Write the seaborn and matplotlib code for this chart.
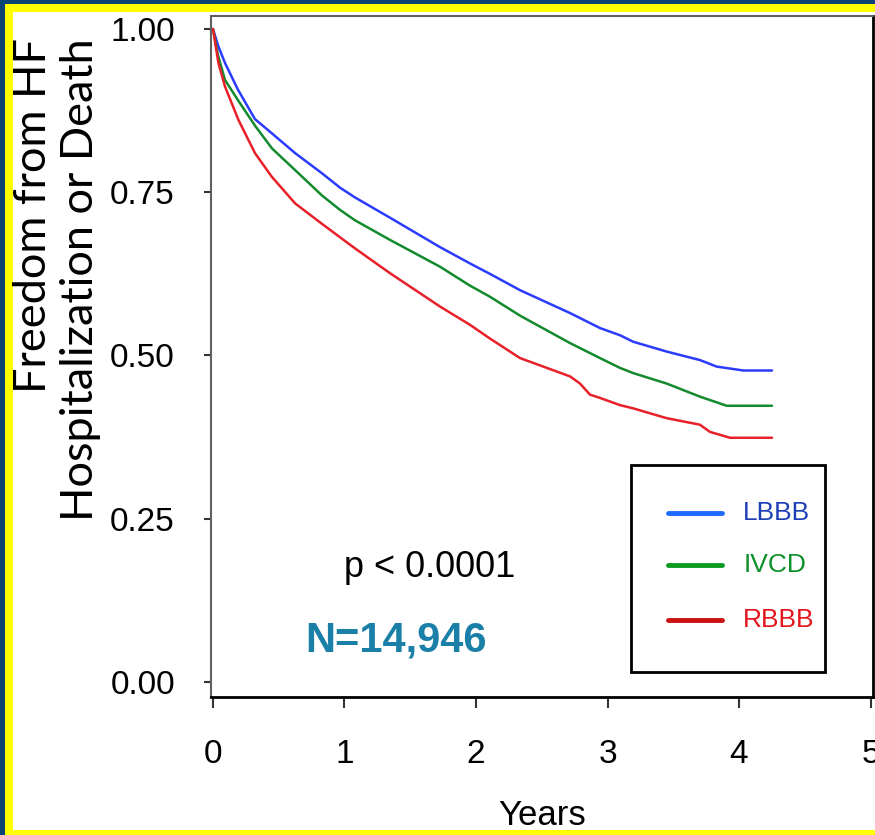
import numpy as np
import pandas as pd
import matplotlib
matplotlib.use("Agg")
import matplotlib.pyplot as plt
from matplotlib.patches import Rectangle
from matplotlib.lines import Line2D
import seaborn as sns

# ---------------- data ----------------
groups = ["LBBB", "IVCD", "RBBB"]

lbbb_years = [0.0, 0.038, 0.091, 0.190, 0.319, 0.449, 0.624, 0.829, 0.966, 1.080,
              1.346, 1.726, 1.954, 2.106, 2.335, 2.715, 2.943, 3.095, 3.196, 3.450,
              3.703, 3.830, 4.033, 4.251]
lbbb_surv = [1.0, 0.975, 0.948, 0.907, 0.862, 0.840, 0.810, 0.779, 0.757, 0.742,
             0.711, 0.666, 0.641, 0.625, 0.600, 0.565, 0.542, 0.531, 0.521, 0.506,
             0.493, 0.483, 0.477, 0.477]

ivcd_years = [0.0, 0.038, 0.091, 0.190, 0.319, 0.449, 0.624, 0.829, 0.966, 1.080,
              1.346, 1.726, 1.954, 2.106, 2.335, 2.715, 2.943, 3.095, 3.196, 3.450,
              3.703, 3.906, 4.251]
ivcd_surv = [1.0, 0.960, 0.922, 0.891, 0.852, 0.817, 0.784, 0.745, 0.723, 0.707,
             0.677, 0.636, 0.607, 0.590, 0.561, 0.519, 0.496, 0.481, 0.473, 0.457,
             0.437, 0.423, 0.423]

rbbb_years = [0.0, 0.041, 0.091, 0.193, 0.319, 0.446, 0.624, 0.826, 0.966, 1.080,
              1.346, 1.726, 1.954, 2.106, 2.335, 2.715, 2.791, 2.867, 2.943, 3.095,
              3.196, 3.450, 3.703, 3.779, 3.932, 4.251]
rbbb_surv = [1.0, 0.948, 0.912, 0.861, 0.810, 0.774, 0.733, 0.702, 0.681, 0.664,
             0.626, 0.575, 0.547, 0.526, 0.496, 0.468, 0.457, 0.440, 0.435, 0.424,
             0.419, 0.404, 0.394, 0.383, 0.374, 0.374]

x_ticks = [0, 1, 2, 3, 4, 5]
y_ticks = [0.0, 0.25, 0.50, 0.75, 1.00]
y_tick_labels = ["0.00", "0.25", "0.50", "0.75", "1.00"]

curve_colors = {"LBBB": "#2b3cff", "IVCD": "#138a2e", "RBBB": "#e8202a"}
legend_line_colors = ["#1e6bff", "#0a9a20", "#cc1111"]
legend_text_colors = ["#1c3fb5", "#0d8f2a", "#e3141b"]

p_text = "p < 0.0001"
n_text = "N=14,946"
x_label = "Years"
y_label = "Freedom from HF\nHospitalization or Death"

df = pd.concat([
    pd.DataFrame({"years": lbbb_years, "surv": lbbb_surv, "group": "LBBB"}),
    pd.DataFrame({"years": ivcd_years, "surv": ivcd_surv, "group": "IVCD"}),
    pd.DataFrame({"years": rbbb_years, "surv": rbbb_surv, "group": "RBBB"}),
], ignore_index=True)

# ---------------- style ----------------
sns.set_style("white")
base = ["Liberation Sans", "DejaVu Sans"]
plt.rcParams["font.family"] = base
plt.rcParams["text.color"] = "black"
plt.rcParams["axes.labelcolor"] = "black"
plt.rcParams["xtick.color"] = "black"
plt.rcParams["ytick.color"] = "black"

W, H = 875, 835
navy = "#0b4372"
yellow = "#ffff00"

fig = plt.figure(figsize=(W / 100, H / 100), dpi=100)
fig.patch.set_facecolor(navy)
fig.add_artist(Rectangle((5 / W, 0), 1, 1 - 4 / H, transform=fig.transFigure,
                         facecolor=yellow, edgecolor="none", zorder=-3))
fig.add_artist(Rectangle((13 / W, 5 / H), 1, 1 - 12 / H - 5 / H, transform=fig.transFigure,
                         facecolor="white", edgecolor="none", zorder=-2))
fig.add_artist(Rectangle((5 / W, 0), 1, 5 / H, transform=fig.transFigure,
                         facecolor=yellow, edgecolor="none", zorder=10))

ax = fig.add_axes([211 / W, 1 - 697 / H, 662 / W, 681 / H])
ax.set_facecolor("white")

sns.lineplot(data=df, x="years", y="surv", hue="group", hue_order=groups,
             palette=curve_colors, sort=False, estimator=None, linewidth=1.8,
             legend=False, ax=ax)

ax.set_xlim(-0.0152, 5.019)
ax.set_ylim(-0.023, 1.0199)
ax.set_xticks(x_ticks)
ax.set_xticklabels([str(t) for t in x_ticks])
ax.set_yticks(y_ticks)
ax.set_yticklabels(y_tick_labels)

ax.tick_params(axis="y", direction="out", length=5, width=1.5, color="#333333",
               pad=21, labelsize=24, left=True, labelcolor="black")
ax.tick_params(axis="x", direction="out", length=8, width=1.5, color="#333333",
               pad=22, labelsize=24, bottom=True, labelcolor="black")

for s in ["left", "top"]:
    ax.spines[s].set_color("#606060")
    ax.spines[s].set_linewidth(1.5)
for s in ["bottom", "right"]:
    ax.spines[s].set_color("black")
    ax.spines[s].set_linewidth(2.0)

ax.set_xlabel(x_label, fontsize=25, va="top", color="black")
ax.xaxis.set_label_coords(0.5, -0.150)
ax.set_ylabel(y_label, fontsize=32.5, family=["Lato", "DejaVu Sans"], color="black",
              linespacing=1.2, multialignment="right")
ylab = ax.yaxis.label
ylab.set_rotation(90)
ylab.set_rotation_mode("default")
ylab.set_horizontalalignment("center")
ylab.set_verticalalignment("top")
ax.yaxis.set_label_coords(-0.2326, 0.968)

# annotations
ax.text(1.0, 0.175, p_text, fontsize=26, ha="left", va="center", color="black")
ax.text(0.70, 0.064, n_text, fontsize=30, fontweight="bold",
        ha="left", va="center", color="#1b80a8")

# legend box (drawn by hand to match the boxed key)
ax.add_patch(Rectangle((0.634, 0.0367), 0.2935, 0.304, transform=ax.transAxes,
                       facecolor="white", edgecolor="black", linewidth=2, zorder=5))
rows_y = [0.270, 0.194, 0.113]
for g, yy, lc, tc in zip(groups, rows_y, legend_line_colors, legend_text_colors):
    ax.add_line(Line2D([0.690, 0.772], [yy, yy], transform=ax.transAxes,
                       color=lc, linewidth=3.5, zorder=6))
    ax.text(0.804, yy, g, transform=ax.transAxes, fontsize=19, color=tc,
            ha="left", va="center", zorder=6)

fig.savefig("out.png", dpi=100, facecolor=fig.get_facecolor())
